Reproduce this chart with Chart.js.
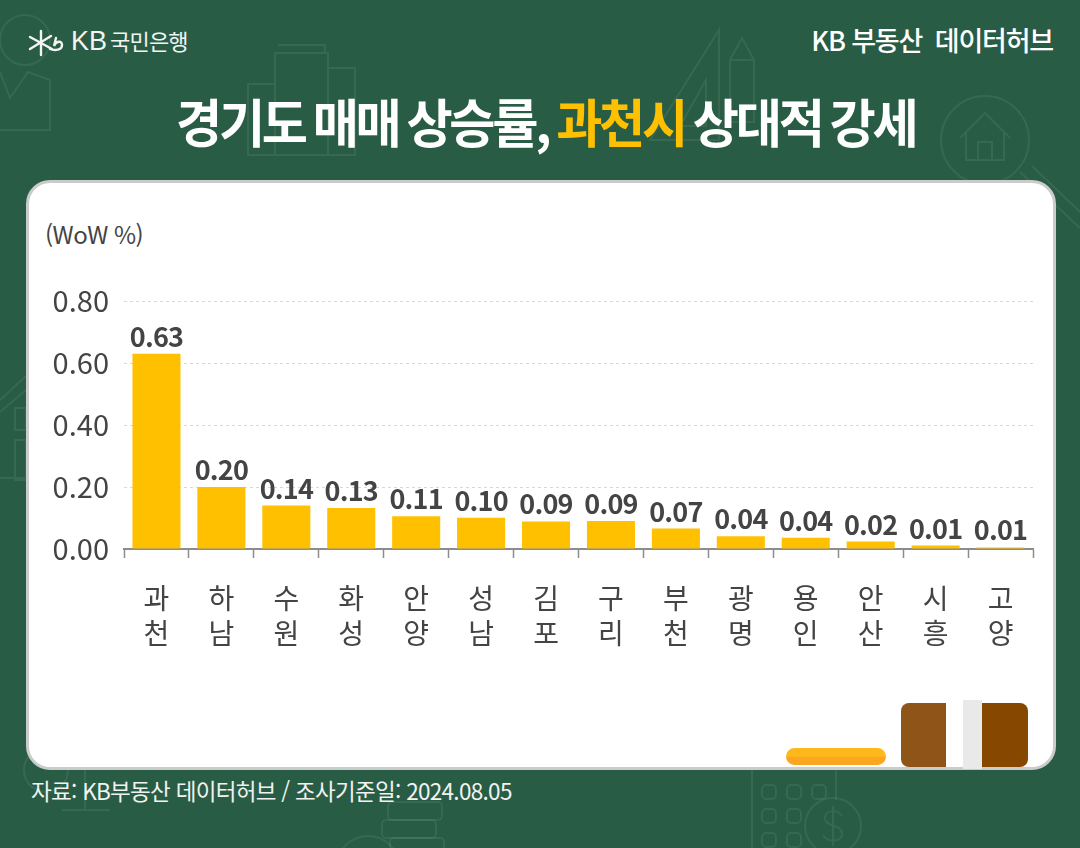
<!DOCTYPE html>
<html lang="ko">
<head>
<meta charset="utf-8">
<title>경기도 매매 상승률</title>
<script src="https://cdn.jsdelivr.net/npm/chart.js@4"></script>
<style>
    html, body { margin: 0; padding: 0; }
    body {
        position: relative;
        width: 1080px;
        height: 848px;
        overflow: hidden;
        background: #295c45;
        font-family: "Noto Sans CJK KR", "Noto Sans", sans-serif;
    }
    .abs { position: absolute; white-space: nowrap; }
    #deco { position: absolute; left: 0; top: 0; }
    #panel {
        position: absolute;
        left: 26px; top: 180px;
        width: 1024px; height: 584px;
        background: #fff;
        border: 3px solid #c9ccca;
        border-radius: 24px;
    }
    #chartBox { position: absolute; left: 0; top: 0; width: 1080px; height: 848px; }
    #logoText { left: 71px; top: 25px; font-size: 22px; line-height: 30px; color: #f1f4f2; letter-spacing: -0.8px; }
    #logoText b { font-family: "Liberation Sans", sans-serif; font-weight: 400; font-size: 27px; letter-spacing: 0; margin-right: 3px; }
    #hub { right: 27px; top: 21px; font-size: 27px; line-height: 38px; font-weight: 500; color: #fff; letter-spacing: -1.2px; }
    #title {
        left: 176px; top: 86px;
        font-size: 52px; line-height: 70px; font-weight: 700; color: #fff;
        letter-spacing: -3.4px; word-spacing: -3px;
        transform: scaleX(0.966); transform-origin: left center;
    }
    #title span { color: #ffc000; }
    #unit { left: 45px; top: 218px; font-size: 24px; line-height: 32px; color: #444; letter-spacing: -0.5px; }
    #source { left: 31px; top: 775px; font-size: 22.5px; line-height: 30px; color: #f0f3f1; letter-spacing: -0.7px; }
    .shape { position: absolute; }
</style>
</head>
<body>

<!-- background line icons -->
<svg id="deco" width="1080" height="848" fill="none" stroke="#ffffff" stroke-opacity="0.07" stroke-width="2">
    <circle cx="25" cy="40" r="25"/>
    <path d="M0 72 L10 98 L28 72 L50 80 V130 H0"/>
    <path d="M248 155 V84 H275 V53 H328 V68 H355 V155 Z M278 45 H325 V53 M275 84 V155 M328 68 V155"/>
    <path d="M650 140 L719 30 V140 Z M680 126 L706 80 V126 Z"/>
    <path d="M730 60 L742 38 L754 60 V122 H730 Z M730 60 H754"/>
    <circle cx="985" cy="140" r="44"/>
    <path d="M960 138 L985 113 L1010 138 M966 132 V160 H1004 V132 M978 160 V142 H992 V160"/>
    <path d="M1020 172 L1080 228 M1032 166 L1080 212"/>
    <path d="M0 400 L26 376 M0 412 L26 390 M15 408 H26 V430 H15 Z M15 440 H26 V480 H15 Z M0 478 H26"/>
    <circle cx="46" cy="770" r="22"/>
    <path d="M62 810 H110 M85 770 V810"/>
    <path d="M752 770 V848 M836 770 V800"/>
    <rect x="762" y="785" width="14" height="14" rx="4"/><rect x="787" y="785" width="14" height="14" rx="4"/><rect x="812" y="785" width="14" height="14" rx="4"/>
    <rect x="762" y="809" width="14" height="14" rx="4"/><rect x="787" y="809" width="14" height="14" rx="4"/>
    <rect x="762" y="833" width="14" height="14" rx="4"/><rect x="787" y="833" width="14" height="14" rx="4"/>
    <circle cx="833" cy="826" r="28"/>
    <path d="M842 816 C838 808 824 810 825 819 C826 827 842 824 842 834 C842 842 827 843 823 835 M833 806 V846"/>
    <rect x="388" y="802" width="54" height="18" rx="4"/>
    <rect x="382" y="820" width="54" height="18" rx="4"/>
    <rect x="390" y="838" width="54" height="18" rx="4"/>
    <circle cx="368" cy="868" r="32"/>
</svg>

<!-- logo -->
<svg class="abs" style="left:27px;top:29px" width="40" height="28" fill="none" stroke="#f1f4f2" stroke-width="2.4" stroke-linecap="round">
    <path d="M14 2 V26 M3 8 L25 20 M3 20 L24 7"/>
    <path d="M23 20 C28 22 35 21 35 16 C35 11 29 12 27 17 L29 9"/>
</svg>
<div class="abs" id="logoText"><b>KB</b>국민은행</div>
<div class="abs" id="hub">KB 부동산&nbsp; 데이터허브</div>
<div class="abs" id="title">경기도 매매 상승률, <span>과천시</span> 상대적 강세</div>

<div id="panel"></div>
<div class="abs" id="unit">(WoW %)</div>
<div class="abs" id="source">자료: KB부동산 데이터허브 / 조사기준일: 2024.08.05</div>

<!-- panel bottom corner decoration -->
<div class="shape" style="left:786px;top:748px;width:100px;height:17px;border-radius:9px;background:linear-gradient(#ffb81c 0 52%, #fca520 52%)"></div>
<div class="shape" style="left:901px;top:703px;width:45px;height:64px;border-radius:8px 0 0 8px;background:#8f5518"></div>
<div class="shape" style="left:963px;top:700px;width:19px;height:69px;background:#e9e9e9"></div>
<div class="shape" style="left:982px;top:703px;width:46px;height:64px;border-radius:0 8px 8px 0;background:#864700"></div>

<div id="chartBox"><canvas id="rateChart"></canvas></div>

<script>
// ===== DATA =====
const cities = [
    ["과", "천"], ["하", "남"], ["수", "원"], ["화", "성"], ["안", "양"], ["성", "남"], ["김", "포"],
    ["구", "리"], ["부", "천"], ["광", "명"], ["용", "인"], ["안", "산"], ["시", "흥"], ["고", "양"]
];
const weeklyChange = [0.63, 0.20, 0.14, 0.132, 0.106, 0.101, 0.089, 0.09, 0.066, 0.041, 0.036, 0.024, 0.011, 0.005];
const yTicks = [0, 0.2, 0.4, 0.6, 0.8];

const FONT = '"Noto Sans CJK KR", "Noto Sans", sans-serif';
const TEXT_COLOR = "#444444";

// ===== VALUE LABELS =====
const valueLabels = {
    id: "valueLabels",
    afterDatasetsDraw(chart) {
        const ctx = chart.ctx;
        const bars = chart.getDatasetMeta(0).data;
        ctx.save();
        ctx.font = "700 27px " + FONT;
        ctx.fillStyle = TEXT_COLOR;
        ctx.textAlign = "center";
        ctx.textBaseline = "alphabetic";
        ctx.letterSpacing = "-0.8px";
        bars.forEach((bar, i) => {
            ctx.fillText(weeklyChange[i].toFixed(2), bar.x, bar.y - 7);
        });
        ctx.restore();
    }
};

// ===== CHART =====
function initChart() {
    const canvas = document.getElementById("rateChart");

    new Chart(canvas, {
        type: "bar",
        data: {
            labels: cities,
            datasets: [{
                data: weeklyChange,
                backgroundColor: "#ffc000",
                barPercentage: 0.74,
                categoryPercentage: 1
            }]
        },
        plugins: [valueLabels],
        options: {
            responsive: true,
            maintainAspectRatio: false,
            animation: false,
            layout: { padding: { left: 0, right: 47, top: 301, bottom: 0 } },
            plugins: {
                legend: { display: false },
                title: { display: false },
                tooltip: { enabled: false }
            },
            scales: {
                x: {
                    afterFit(scale) { scale.height = 299; },
                    border: { color: "#8c8c8c", width: 2 },
                    grid: {
                        drawOnChartArea: false,
                        drawTicks: true,
                        tickLength: 9,
                        tickColor: "#8c8c8c",
                        tickWidth: 1.5
                    },
                    ticks: {
                        color: TEXT_COLOR,
                        padding: 22,
                        maxRotation: 0,
                        autoSkip: false,
                        font: { family: FONT, size: 28, lineHeight: 1.28 }
                    }
                },
                y: {
                    min: 0,
                    max: 0.8,
                    afterFit(scale) { scale.width = 124; },
                    afterBuildTicks(scale) { scale.ticks = yTicks.map(v => ({ value: v })); },
                    border: { display: false, dash: [3, 3] },
                    grid: {
                        color: "#d8d8d8",
                        lineWidth: 1,
                        tickLength: 0
                    },
                    ticks: {
                        color: TEXT_COLOR,
                        padding: 15,
                        callback: v => v.toFixed(2),
                        font: { family: FONT, size: 29 }
                    }
                }
            }
        }
    });
}

document.addEventListener("DOMContentLoaded", initChart);
</script>
</body>
</html>
